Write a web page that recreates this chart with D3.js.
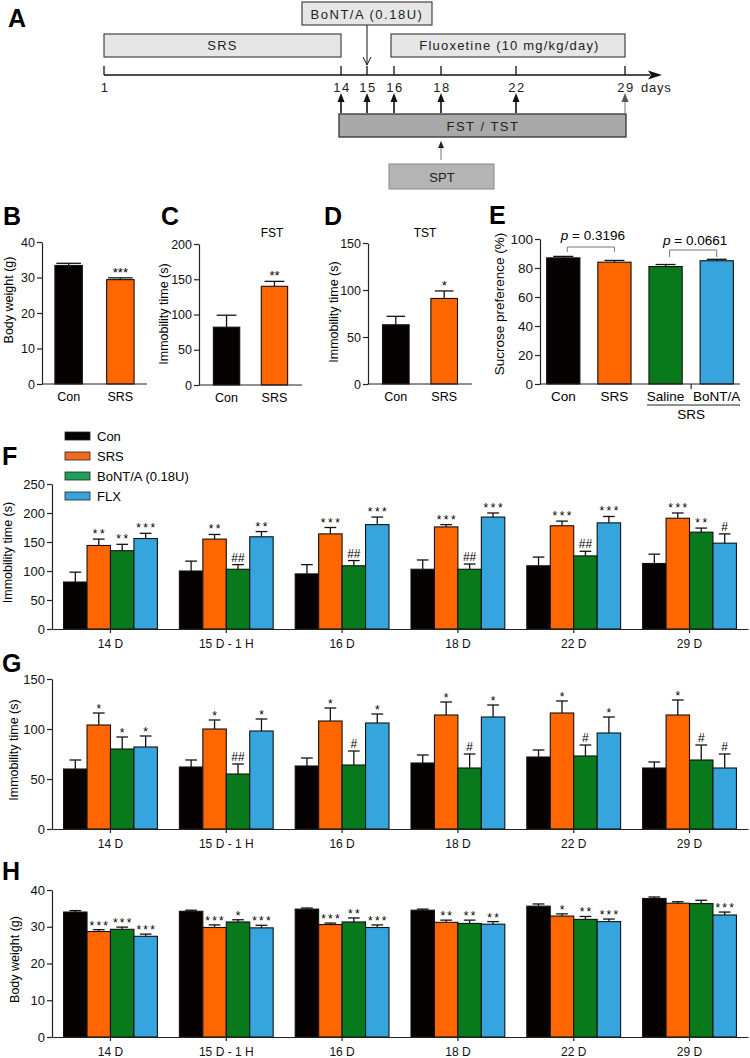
<!DOCTYPE html>
<html>
<head>
<meta charset="utf-8">
<script src="https://cdn.jsdelivr.net/npm/d3@7"></script>
<style>
  body { margin: 0; background: #fff; }
  svg { display: block; font-family: "Liberation Sans", Arial, sans-serif; }
</style>
</head>
<body>
<svg id="fig" width="750" height="1058"></svg>
<script>
// ---------- data ----------
// panel A timeline
const timelineDays = [1, 14, 15, 16, 18, 22, 29];
const testDays = [14, 15, 16, 18, 22, 29];
const phases = [
  { name: "SRS", start: 1, end: 14 },
  { name: "Fluoxetine (10 mg/kg/day)", start: 16, end: 29 }
];
const injectionDay = 15, injectionLabel = "BoNT/A (0.18U)";
const sptDay = 18;

// panels B-E
const twoGroups = ["Con", "SRS"];
const bwMean = [33.4, 29.4], bwErr = [0.6, 0.5], bwSig = ["", "***"];
const fstMean = [82, 140], fstErr = [17, 7], fstSig = ["", "**"];
const tstMean = [63, 91], tstErr = [9, 8], tstSig = ["", "*"];
const sptGroups = ["Con", "SRS", "Saline", "BoNT/A"];
const sptMean = [87, 84, 81, 85], sptErr = [1, 1.2, 1.4, 1];

// panels F-H
const groups = ["Con", "SRS", "BoNT/A (0.18U)", "FLX"];
const days = ["14 D", "15 D - 1 H", "16 D", "18 D", "22 D", "29 D"];

const fstDayMean = [
  [81, 144, 135, 156], [100, 155, 103, 159], [95, 164, 109, 180],
  [103, 176, 103, 193], [109, 178, 126, 183], [113, 191, 167, 148]];
const fstDayErr = [
  [17, 11, 11, 9], [17, 8, 8, 9], [16, 11, 9, 13],
  [16, 4, 9, 7], [15, 8, 8, 11], [16, 9, 7, 16]];
const fstDaySig = [
  ["", "**", "**", "***"], ["", "**", "##", "**"], ["", "***", "##", "***"],
  ["", "***", "##", "***"], ["", "***", "##", "***"], ["", "***", "**", "#"]];

const tstDayMean = [
  [60, 104, 80, 82], [62, 100, 55, 98], [63, 108, 64, 106],
  [66, 114, 61, 112], [72, 116, 73, 96], [61, 114, 69, 61]];
const tstDayErr = [
  [9, 12, 12, 11], [7, 9, 10, 12], [8, 13, 14, 9],
  [8, 13, 14, 12], [7, 12, 11, 16], [6, 15, 15, 14]];
const tstDaySig = [
  ["", "*", "*", "*"], ["", "*", "##", "*"], ["", "*", "#", "*"],
  ["", "*", "#", "*"], ["", "*", "#", "*"], ["", "*", "#", "#"]];

const bwDayMean = [
  [34.0, 28.7, 29.3, 27.4], [34.2, 29.8, 31.3, 29.7], [34.8, 30.6, 31.3, 29.8],
  [34.5, 31.2, 30.9, 30.7], [35.6, 32.9, 32.0, 31.4], [37.7, 36.4, 36.3, 33.2]];
const bwDayErr = [
  [0.4, 0.5, 0.6, 0.6], [0.3, 0.7, 0.6, 0.7], [0.3, 0.4, 1.1, 0.7],
  [0.3, 0.6, 0.9, 0.7], [0.6, 0.6, 0.8, 0.7], [0.4, 0.4, 0.9, 0.8]];
const bwDaySig = [
  ["", "***", "***", "***"], ["", "***", "*", "***"], ["", "***", "**", "***"],
  ["", "**", "**", "**"], ["", "*", "**", "***"], ["", "", "", "***"]];

const colors = ["#060202", "#ff6600", "#087a1c", "#36a5dd"];
const legendColors = ["#060202", "#f26a22", "#20a05a", "#36a5dd"];

// ---------- drawing ----------
const svg = d3.select("#fig");

function letter(t, x, y) {
  svg.append("text").attr("x", x).attr("y", y).text(t)
    .style("font-size", "25px").style("font-weight", "bold");
}

function yTitle(t, x, y, size) {
  svg.append("text").attr("transform", `translate(${x},${y}) rotate(-90)`)
    .attr("text-anchor", "middle").style("font-size", size + "px").text(t);
}

function styleAxis(g, size) {
  g.selectAll("path, line").attr("stroke", "#222").attr("stroke-width", 1.2);
  g.selectAll("text").attr("fill", "#111").style("font-size", size + "px")
    .style("font-family", "'Liberation Sans', Arial, sans-serif");
}

// draws bars + upper error bars + significance marks
function drawBars(g, data, y, opt) {
  g.selectAll("rect.bar").data(data).join("rect").attr("class", "bar")
    .attr("x", d => d.x).attr("width", d => d.w)
    .attr("y", d => y(d.mean)).attr("height", d => y(0) - y(d.mean))
    .attr("fill", d => d.color).attr("stroke", "#111").attr("stroke-width", 1.1);
  g.selectAll("line.err").data(data).join("line").attr("class", "err")
    .attr("x1", d => d.x + d.w / 2).attr("x2", d => d.x + d.w / 2)
    .attr("y1", d => y(d.mean)).attr("y2", d => y(d.mean + d.err))
    .attr("stroke", "#111").attr("stroke-width", 1.3);
  g.selectAll("line.cap").data(data).join("line").attr("class", "cap")
    .attr("x1", d => d.x + d.w / 2 - d.w * opt.cap / 2)
    .attr("x2", d => d.x + d.w / 2 + d.w * opt.cap / 2)
    .attr("y1", d => y(d.mean + d.err)).attr("y2", d => y(d.mean + d.err))
    .attr("stroke", "#111").attr("stroke-width", 1.3);
  g.selectAll("text.sig").data(data.filter(d => d.sig)).join("text").attr("class", "sig")
    .attr("x", d => d.x + d.w / 2 + (d.sig[0] === "*" ? opt.spacing / 2 : 0))
    .attr("y", d => y(d.mean + d.err) - (d.sig[0] === "#" ? 3 : opt.starGap))
    .attr("text-anchor", "middle")
    .style("font-size", opt.sigSize + "px")
    .style("letter-spacing", d => d.sig[0] === "*" ? opt.spacing + "px" : "0px")
    .text(d => d.sig);
}

// ---- Panel A ----
letter("A", 8, 27);
const tl = d3.scaleLinear().domain(timelineDays).range([104, 341, 367, 394, 441, 516, 625]);
const gA = svg.append("g").style("font-size", "13px").attr("fill", "#222");

gA.selectAll("rect.phase").data(phases).join("rect").attr("class", "phase")
  .attr("x", d => tl(d.start) - (d.start === 16 ? 3 : 0)).attr("y", 34)
  .attr("width", d => tl(d.end) - tl(d.start) + (d.start === 16 ? 3 : 0)).attr("height", 23)
  .attr("fill", "#e6e6e6").attr("stroke", "#444").attr("stroke-width", 1.2);
gA.selectAll("text.phase").data(phases).join("text").attr("class", "phase")
  .attr("x", d => (tl(d.start) + tl(d.end)) / 2).attr("y", 50)
  .attr("text-anchor", "middle").style("letter-spacing", "1.2px").text(d => d.name);

// injection box + arrow
gA.append("rect").attr("x", tl(injectionDay) - 65).attr("y", 2).attr("width", 130).attr("height", 23)
  .attr("fill", "#e6e6e6").attr("stroke", "#444").attr("stroke-width", 1.2);
gA.append("text").attr("x", tl(injectionDay)).attr("y", 19).attr("text-anchor", "middle")
  .style("letter-spacing", "1.5px").text(injectionLabel);
gA.append("line").attr("x1", tl(injectionDay)).attr("x2", tl(injectionDay)).attr("y1", 25).attr("y2", 65)
  .attr("stroke", "#111").attr("stroke-width", 1);
gA.append("path").attr("d", `M${tl(injectionDay) - 4},57 L${tl(injectionDay)},65 L${tl(injectionDay) + 4},57`)
  .attr("fill", "none").attr("stroke", "#111").attr("stroke-width", 1);

// axis
const axisY = 75;
gA.append("line").attr("x1", tl(1)).attr("x2", 650).attr("y1", axisY).attr("y2", axisY)
  .attr("stroke", "#111").attr("stroke-width", 1.3);
gA.append("path").attr("d", `M648,${axisY - 4.5} L662,${axisY} L648,${axisY + 4.5} L651,${axisY} Z`).attr("fill", "#111");
gA.selectAll("line.tick").data(timelineDays).join("line").attr("class", "tick")
  .attr("x1", d => tl(d)).attr("x2", d => tl(d)).attr("y1", axisY - 9).attr("y2", axisY)
  .attr("stroke", "#111").attr("stroke-width", 1.3);
gA.selectAll("text.tick").data(timelineDays).join("text").attr("class", "tick")
  .attr("x", d => tl(d) + 1).attr("y", 92).attr("text-anchor", "middle")
  .style("letter-spacing", "1.5px").text(d => d);
gA.append("text").attr("x", 641).attr("y", 92).style("letter-spacing", "0.8px").text("days");

// test arrows
gA.selectAll("line.up").data(testDays).join("line").attr("class", "up")
  .attr("x1", d => tl(d)).attr("x2", d => tl(d)).attr("y1", 113).attr("y2", 100)
  .attr("stroke", d => d === 29 ? "#777" : "#111").attr("stroke-width", d => d === 29 ? 1 : 1.6);
gA.selectAll("path.up").data(testDays).join("path").attr("class", "up")
  .attr("d", d => `M${tl(d) - 3.5},102 L${tl(d)},93 L${tl(d) + 3.5},102 Z`)
  .attr("fill", d => d === 29 ? "#555" : "#111");

// FST / TST box
gA.append("rect").attr("x", tl(14) - 2).attr("y", 114).attr("width", tl(29) - tl(14) + 3).attr("height", 23)
  .attr("fill", "#a9a9a9").attr("stroke", "#333").attr("stroke-width", 1.3);
gA.append("text").attr("x", (tl(14) + tl(29)) / 2).attr("y", 131).attr("text-anchor", "middle")
  .style("letter-spacing", "1.5px").text("FST / TST");

// SPT
gA.append("line").attr("x1", tl(sptDay)).attr("x2", tl(sptDay)).attr("y1", 160).attr("y2", 146)
  .attr("stroke", "#777").attr("stroke-width", 1);
gA.append("path").attr("d", `M${tl(sptDay) - 3},148 L${tl(sptDay)},141 L${tl(sptDay) + 3},148 Z`).attr("fill", "#222");
gA.append("rect").attr("x", tl(sptDay) - 52).attr("y", 164).attr("width", 105).attr("height", 25)
  .attr("fill", "#b4b4b4").attr("stroke", "#888").attr("stroke-width", 1);
gA.append("text").attr("x", tl(sptDay) + 1).attr("y", 182).attr("text-anchor", "middle").text("SPT");

// ---- Panels B-E ----
function smallPanel(o) {
  const x = d3.scaleBand().domain(o.cats).range(o.xRange)
    .paddingInner(o.padIn).paddingOuter(o.padOut);
  const y = d3.scaleLinear().domain([0, o.yMax]).range(o.yRange);
  const g = svg.append("g");
  const data = o.cats.map((c, i) => ({
    x: x(c), w: x.bandwidth(), mean: o.means[i], err: o.errs[i],
    sig: o.sigs ? o.sigs[i] : "", color: colors[i]
  }));
  drawBars(g, data, y, { cap: o.cap, sigSize: o.sigSize || 13, spacing: 0, starGap: 1 });
  const ya = g.append("g").attr("transform", `translate(${o.xRange[0]},0)`)
    .call(d3.axisLeft(y).tickValues(o.ticks).tickSize(5).tickSizeOuter(0).tickPadding(2));
  styleAxis(ya, o.font);
  g.append("line").attr("x1", o.xRange[0]).attr("x2", o.xRange[1])
    .attr("y1", y(0)).attr("y2", y(0)).attr("stroke", "#222").attr("stroke-width", 1.2);
  g.selectAll("text.xl").data(o.cats).join("text").attr("class", "xl")
    .attr("x", c => x(c) + x.bandwidth() / 2).attr("y", y(0) + 17)
    .attr("text-anchor", "middle").style("font-size", o.font + "px").text(c => c);
  if (o.title) {
    g.append("text").attr("x", o.titleX).attr("y", 237).attr("text-anchor", "middle")
      .style("font-size", "12px").text(o.title);
  }
  yTitle(o.yTitle, o.yTitleX, o.yTitleY, o.font);
  return { x, y, g };
}

letter("B", 3, 225);
smallPanel({ cats: twoGroups, xRange: [42, 147], yRange: [384, 242], yMax: 40, ticks: [0, 10, 20, 30, 40],
  means: bwMean, errs: bwErr, sigs: bwSig, padIn: 0.47, padOut: 0.25, cap: 0.9, font: 12.5,
  yTitle: "Body weight (g)", yTitleX: 13, yTitleY: 300 });

letter("C", 161, 225);
smallPanel({ cats: twoGroups, xRange: [199, 302], yRange: [385, 244], yMax: 200, ticks: [0, 50, 100, 150, 200],
  means: fstMean, errs: fstErr, sigs: fstSig, padIn: 0.45, padOut: 0.3, cap: 0.75, font: 12.5,
  title: "FST", titleX: 272, yTitle: "Immobility time (s)", yTitleX: 168, yTitleY: 314 });

letter("D", 324, 225);
smallPanel({ cats: twoGroups, xRange: [368, 472], yRange: [384, 243], yMax: 150, ticks: [0, 50, 100, 150],
  means: tstMean, errs: tstErr, sigs: tstSig, padIn: 0.45, padOut: 0.3, cap: 0.7, font: 12.5,
  title: "TST", titleX: 425, yTitle: "Immobility time (s)", yTitleX: 338, yTitleY: 312 });

letter("E", 489, 224);
const pE = smallPanel({ cats: sptGroups, xRange: [540, 740], yRange: [384, 239], yMax: 100, ticks: [0, 20, 40, 60, 80, 100],
  means: sptMean, errs: sptErr, padIn: 0.35, padOut: 0.13, cap: 0.6, font: 13.5,
  yTitle: "Sucrose preference (%)", yTitleX: 504, yTitleY: 304 });
{
  const { x, y, g } = pE;
  const cx = c => x(c) + x.bandwidth() / 2;
  // SRS group under Saline / BoNT/A
  const gx0 = x("Saline") - 2, gx1 = 740;
  g.append("line").attr("x1", (cx("Saline") + cx("BoNT/A")) / 2).attr("x2", (cx("Saline") + cx("BoNT/A")) / 2)
    .attr("y1", y(0)).attr("y2", y(0) + 5).attr("stroke", "#222").attr("stroke-width", 1.2);
  g.append("line").attr("x1", gx0).attr("x2", gx1).attr("y1", 405).attr("y2", 405)
    .attr("stroke", "#222").attr("stroke-width", 1);
  g.append("text").attr("x", (cx("Saline") + cx("BoNT/A")) / 2).attr("y", 419).attr("text-anchor", "middle")
    .style("font-size", "13.5px").text("SRS");
  // p-value brackets
  const brackets = [
    { a: "Con", b: "SRS", top: 247, leg: 5, p: "0.3196", ty: 240 },
    { a: "Saline", b: "BoNT/A", top: 250, leg: 7, p: "0.0661", ty: 245 }
  ];
  brackets.forEach(br => {
    g.append("path")
      .attr("d", `M${cx(br.a) + 4},${br.top + br.leg} V${br.top} H${cx(br.b)} V${br.top + br.leg}`)
      .attr("fill", "none").attr("stroke", "#777").attr("stroke-width", 1);
    const t = g.append("text").attr("x", (cx(br.a) + cx(br.b)) / 2 + 4).attr("y", br.ty)
      .attr("text-anchor", "middle").style("font-size", "13.5px");
    t.append("tspan").style("font-style", "italic").text("p");
    t.append("tspan").text(" = " + br.p);
  });
}

// ---- Panels F-H ----
function groupedPanel(o) {
  const x0 = d3.scaleBand().domain(days).range([52, 748]).paddingInner(0.19).paddingOuter(0.1);
  const x1 = d3.scaleBand().domain(groups).range([0, x0.bandwidth()]);
  const y = d3.scaleLinear().domain([0, o.yMax]).range(o.yRange);
  const g = svg.append("g");
  const data = days.flatMap((d, i) => groups.map((gr, j) => ({
    x: x0(d) + x1(gr), w: x1.bandwidth(), mean: o.means[i][j], err: o.errs[i][j],
    sig: o.sigs[i][j], color: colors[j]
  })));
  drawBars(g, data, y, { cap: 0.5, sigSize: 12, spacing: o.spacing, starGap: o.starGap });
  const ya = g.append("g").attr("transform", "translate(52,0)")
    .call(d3.axisLeft(y).tickValues(o.ticks).tickSize(5).tickSizeOuter(0).tickPadding(2));
  styleAxis(ya, 13);
  const xa = g.append("g").attr("transform", `translate(0,${o.yRange[0]})`)
    .call(d3.axisBottom(x0).tickSize(4).tickSizeOuter(0).tickPadding(6));
  styleAxis(xa, 12);
  yTitle(o.yTitle, o.yTitleX, (o.yRange[0] + o.yRange[1]) / 2 - 4, 12.5);
  return { x0, y, g };
}

letter("F", 2, 465);
groupedPanel({ yRange: [629, 484], yMax: 250, ticks: [0, 50, 100, 150, 200, 250],
  means: fstDayMean, errs: fstDayErr, sigs: fstDaySig, spacing: 2.5, starGap: 1,
  yTitle: "Immobility time (s)", yTitleX: 12 });

// legend
const leg = svg.append("g").selectAll("g").data(groups).join("g")
  .attr("transform", (d, i) => `translate(65,${432 + i * 20})`);
leg.append("rect").attr("width", 25).attr("height", 8)
  .attr("fill", (d, i) => legendColors[i]).attr("stroke", "#222").attr("stroke-width", 0.8);
leg.append("text").attr("x", 32).attr("y", 9).style("font-size", "13px").text(d => d);

letter("G", 2, 672);
groupedPanel({ yRange: [829, 679], yMax: 150, ticks: [0, 50, 100, 150],
  means: tstDayMean, errs: tstDayErr, sigs: tstDaySig, spacing: 2, starGap: 0,
  yTitle: "Immobility time (s)", yTitleX: 18 });

letter("H", 2, 880);
groupedPanel({ yRange: [1037, 890], yMax: 40, ticks: [0, 10, 20, 30, 40],
  means: bwDayMean, errs: bwDayErr, sigs: bwDaySig, spacing: 2.2, starGap: 0,
  yTitle: "Body weight (g)", yTitleX: 19 });
</script>
</body>
</html>
